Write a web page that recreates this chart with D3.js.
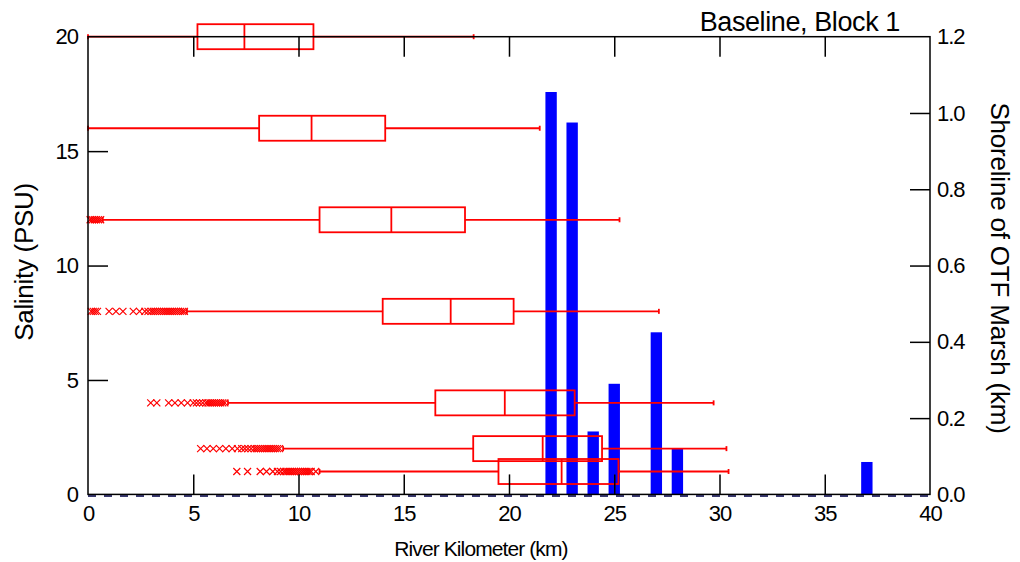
<!DOCTYPE html>
<html>
<head>
<meta charset="utf-8">
<script src="https://cdn.jsdelivr.net/npm/d3@7"></script>
<style>
  html, body { margin: 0; padding: 0; background: #fff; }
  text { font-family: "Liberation Sans", Arial, sans-serif; fill: #000; }
</style>
</head>
<body>
<svg id="chart" width="1020" height="562"></svg>
<script>
// ---------- DATA ----------
const salinityLevels = [20, 16, 12, 8, 4, 2, 1];
const whiskerLow  = [0, 0, 0.7, 4.7, 6.65, 9.27, 11.0];
const q1          = [5.2, 8.13, 11.0, 14.0, 16.5, 18.3, 19.5];
const median      = [7.43, 10.62, 14.41, 17.23, 19.8, 21.6, 22.5];
const q3          = [10.71, 14.12, 17.91, 20.22, 23.12, 24.42, 25.2];
const whiskerHigh = [18.32, 21.46, 25.25, 27.12, 29.72, 30.33, 30.43];

const outliers20 = [];
const outliers16 = [];
const outliers12 = [0.1, 0.2, 0.3, 0.4, 0.5, 0.6];
const outliers8  = [0.15, 0.25, 0.35, 0.45, 1.0, 1.33, 1.66, 2.15, 2.45, 2.7, 2.85, 3.0, 3.1, 3.2, 3.3, 3.4, 3.5, 3.6, 3.7, 3.8, 3.9, 4.0, 4.1, 4.2, 4.3, 4.4, 4.5, 4.58];
const outliers4  = [2.98, 3.27, 3.83, 4.13, 4.43, 4.73, 5.0, 5.15, 5.3, 5.45, 5.6, 5.7, 5.8, 5.9, 6.0, 6.1, 6.2, 6.3, 6.4, 6.5];
const outliers2  = [5.35, 5.65, 5.95, 6.25, 6.55, 6.85, 7.1, 7.3, 7.45, 7.6, 7.75, 7.9, 8.0, 8.1, 8.2, 8.3, 8.4, 8.5, 8.6, 8.7, 8.8, 8.9, 9.0, 9.1];
const outliers1  = [7.07, 7.58, 8.18, 8.48, 8.78, 9.0, 9.15, 9.3, 9.4, 9.5, 9.6, 9.7, 9.8, 9.9, 10.0, 10.1, 10.2, 10.3, 10.4, 10.5, 10.6, 10.82];
const outlierSets = [outliers20, outliers16, outliers12, outliers8, outliers4, outliers2, outliers1];

const barKm     = [22, 23, 24, 25, 27, 28, 37];
const barLength = [1.055, 0.975, 0.165, 0.29, 0.425, 0.12, 0.085];

const xTicks = [0, 5, 10, 15, 20, 25, 30, 35, 40];
const yTicks = [0, 5, 10, 15, 20];
const y2Ticks = [0.0, 0.2, 0.4, 0.6, 0.8, 1.0, 1.2];

const titleText = "Baseline, Block 1";
const xTitle = "River Kilometer (km)";
const yTitle = "Salinity (PSU)";
const y2Title = "Shoreline of OTF Marsh (km)";

// ---------- LAYOUT ----------
const pLeft = 88, pRight = 930, pTop = 36.7, pBottom = 494.4;
const svg = d3.select("#chart");
const x = d3.scaleLinear().domain([0, 40]).range([pLeft, pRight]);
const y = d3.scaleLinear().domain([0, 20]).range([pBottom, pTop]);
const y2 = d3.scaleLinear().domain([0, 1.2]).range([pBottom, pTop]);

const red = "#ff0000";
const blue = "#0000ff";
const tickLen = 20;

// dashed baseline under axis
svg.append("line")
  .attr("x1", x(0)).attr("x2", x(40))
  .attr("y1", y(0) + 1.5).attr("y2", y(0) + 1.5)
  .attr("stroke", "#3a3a70").attr("stroke-width", 2)
  .attr("stroke-dasharray", "8,8");

// bars
const barW = x(0.54) - x(0);
svg.append("g").selectAll("rect")
  .data(barKm.map((k, i) => ({ k, v: barLength[i] })))
  .join("rect")
  .attr("x", d => x(d.k) - barW / 2)
  .attr("width", barW)
  .attr("y", d => y2(d.v))
  .attr("height", d => y2(0) - y2(d.v))
  .attr("fill", blue);

// boxplots
const boxH = 25;
const capH = 5;
const mk = 3.5;
const gBox = svg.append("g").attr("fill", "none").attr("stroke", red).attr("stroke-width", 1.8);
salinityLevels.forEach((s, i) => {
  const cy = y(s);
  gBox.append("line").attr("x1", x(whiskerLow[i])).attr("x2", x(q1[i])).attr("y1", cy).attr("y2", cy);
  gBox.append("line").attr("x1", x(q3[i])).attr("x2", x(whiskerHigh[i])).attr("y1", cy).attr("y2", cy);
  gBox.append("line").attr("x1", x(whiskerHigh[i])).attr("x2", x(whiskerHigh[i])).attr("y1", cy - capH / 2).attr("y2", cy + capH / 2);
  gBox.append("line").attr("x1", x(whiskerLow[i])).attr("x2", x(whiskerLow[i])).attr("y1", cy - capH / 2).attr("y2", cy + capH / 2);
  gBox.append("rect").attr("x", x(q1[i])).attr("y", cy - boxH / 2)
    .attr("width", x(q3[i]) - x(q1[i])).attr("height", boxH);
  gBox.append("line").attr("x1", x(median[i])).attr("x2", x(median[i]))
    .attr("y1", cy - boxH / 2).attr("y2", cy + boxH / 2);
  gBox.append("g").attr("stroke-width", 1.2).selectAll("path")
    .data(outlierSets[i]).join("path")
    .attr("d", d => `M${x(d) - mk},${cy - mk}L${x(d) + mk},${cy + mk}M${x(d) - mk},${cy + mk}L${x(d) + mk},${cy - mk}`);
});

// ---------- AXES ----------
const axisStyle = g => {
  g.select(".domain").remove();
  g.selectAll("line").attr("stroke", "#000").attr("stroke-width", 1.5);
  g.selectAll("text").style("font-family", '"Liberation Sans", Arial, sans-serif')
    .style("font-size", "22px").attr("fill", "#000").style("letter-spacing", "-1px");
};

svg.append("g").attr("transform", `translate(0,${pBottom})`)
  .call(d3.axisTop(x).tickValues(xTicks.slice(1, -1)).tickSize(tickLen).tickFormat(""))
  .call(axisStyle);
svg.append("g").attr("transform", `translate(0,${pBottom})`)
  .call(d3.axisBottom(x).tickValues(xTicks).tickSize(0).tickPadding(11).tickFormat(d3.format("d")))
  .call(axisStyle);
svg.append("g").attr("transform", `translate(0,${pTop})`)
  .call(d3.axisBottom(x).tickValues(xTicks.slice(1, -1)).tickSize(tickLen).tickFormat(""))
  .call(axisStyle);
svg.append("g").attr("transform", `translate(${pLeft},0)`)
  .call(d3.axisRight(y).tickValues(yTicks.slice(1, -1)).tickSize(tickLen).tickFormat(""))
  .call(axisStyle);
svg.append("g").attr("transform", `translate(${pLeft},0)`)
  .call(d3.axisLeft(y).tickValues(yTicks).tickSize(0).tickPadding(10).tickFormat(d3.format("d")))
  .call(axisStyle);
svg.append("g").attr("transform", `translate(${pRight},0)`)
  .call(d3.axisLeft(y2).tickValues(y2Ticks.slice(1, -1)).tickSize(tickLen).tickFormat(""))
  .call(axisStyle);
svg.append("g").attr("transform", `translate(${pRight},0)`)
  .call(d3.axisRight(y2).tickValues(y2Ticks).tickSize(0).tickPadding(7).tickFormat(d3.format(".1f")))
  .call(axisStyle);

svg.append("rect").attr("x", pLeft).attr("y", pTop).attr("width", pRight - pLeft).attr("height", pBottom - pTop)
  .attr("fill", "none").attr("stroke", "#000").attr("stroke-width", 1.5);

svg.append("text").attr("x", 900).attr("y", 31).attr("text-anchor", "end")
  .style("font-size", "27px").style("letter-spacing", "-0.4px").text(titleText);
svg.append("text").attr("x", 481).attr("y", 556).attr("text-anchor", "middle")
  .style("font-size", "21px").style("letter-spacing", "-0.9px").text(xTitle);
svg.append("text").attr("transform", `translate(33,262) rotate(-90)`).attr("text-anchor", "middle")
  .style("font-size", "26px").style("letter-spacing", "-0.3px").text(yTitle);
svg.append("text").attr("transform", `translate(991,268) rotate(90)`).attr("text-anchor", "middle")
  .style("font-size", "26px").style("letter-spacing", "-0.2px").text(y2Title);
</script>
</body>
</html>
